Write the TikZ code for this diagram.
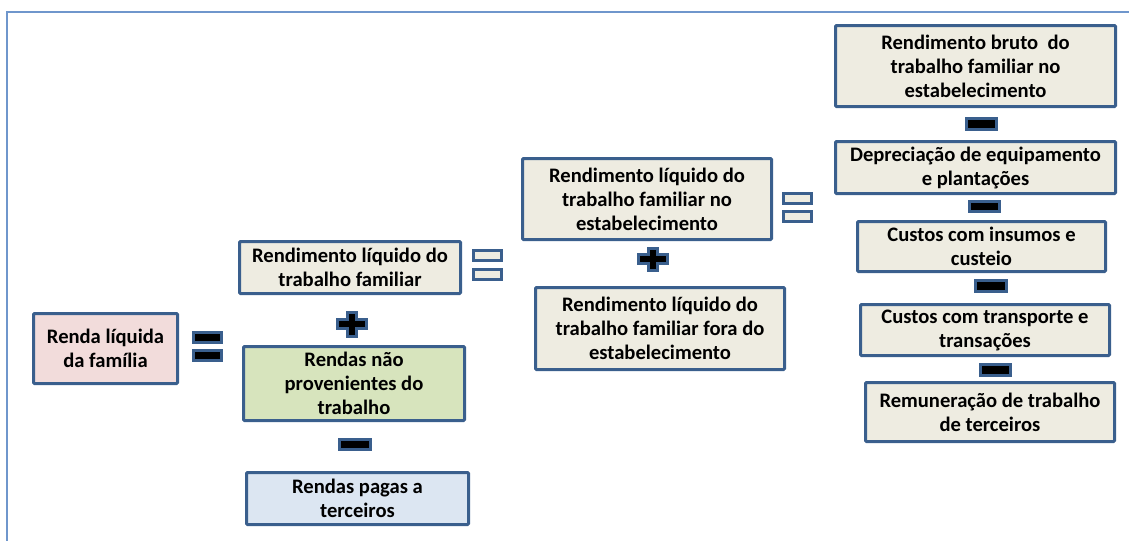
\documentclass[tikz,border=0pt]{standalone}
\usepackage{fontspec}
\setmainfont{Carlito}
\definecolor{boxblue}{HTML}{3A5F8D}
\definecolor{frameblue}{HTML}{6F96CC}
\definecolor{pinkfill}{HTML}{F2DCDB}
\definecolor{beigefill}{HTML}{EEECE1}
\definecolor{greenfill}{HTML}{D7E4BD}
\definecolor{bluefill}{HTML}{DCE6F2}
\tikzset{
    box/.style={draw=boxblue, line width=3pt, rounded corners=1pt, align=center,
        inner sep=0pt, font=\fontsize{20.6}{24}\selectfont\bfseries},
    bar/.style={draw=boxblue, line width=3pt, minimum width=28pt, minimum height=10pt,
        inner sep=0pt},
    sign/.style={draw=boxblue, line width=3pt, fill=black, line join=miter}
}
\begin{document}
\begin{tikzpicture}[x=1pt, y=-1pt]
    \useasboundingbox (0,0) rectangle (1129,541);
    \draw[frameblue, line width=2.2pt] (1129,12) -- (7,12) -- (7,541);

    % left side
    \node[box, fill=pinkfill, minimum width=144pt, minimum height=70pt] (rlf) at (105.5,348.5) {Renda líquida\\da família};
    \node[box, fill=beigefill, minimum width=221pt, minimum height=52pt] (rltf) at (350,267.5) {Rendimento líquido do\\trabalho familiar};
    \node[box, fill=greenfill, minimum width=221pt, minimum height=74pt] (rnpt) at (354,383.5) {Rendas não\\provenientes do\\trabalho};
    \node[box, fill=bluefill, minimum width=222pt, minimum height=52pt] (rpt) at (357.5,498.5) {Rendas pagas a\\terceiros};

    % middle
    \node[box, fill=beigefill, minimum width=249pt, minimum height=81pt] (rltfe) at (647,199) {Rendimento líquido do\\trabalho familiar no\\estabelecimento};
    \node[box, fill=beigefill, minimum width=249pt, minimum height=82pt] (rltff) at (660,328.5) {Rendimento líquido do\\trabalho familiar fora do\\estabelecimento};

    % right column
    \node[box, fill=beigefill, minimum width=280pt, minimum height=81pt] (rb) at (975.5,66) {Rendimento bruto\ \ do\\trabalho familiar no\\estabelecimento};
    \node[box, fill=beigefill, minimum width=280pt, minimum height=52pt] (dep) at (975.5,167.5) {Depreciação de equipamento\\e plantações};
    \node[box, fill=beigefill, minimum width=248pt, minimum height=50pt] (ci) at (981.5,246.5) {Custos com insumos e\\custeio};
    \node[box, fill=beigefill, minimum width=249pt, minimum height=51pt] (ct) at (985,330) {Custos com transporte e\\transações};
    \node[box, fill=beigefill, minimum width=249pt, minimum height=59pt] (rem) at (990,412) {Remuneração de trabalho\\de terceiros};

    % equals signs
    \node[bar, fill=black] (eq1a) at (207.5,337.5) {};
    \node[bar, fill=black] (eq1b) at (207.5,355) {};
    \node[bar, fill=beigefill] (eq2a) at (487.5,255) {};
    \node[bar, fill=beigefill] (eq2b) at (487.5,274) {};
    \node[bar, fill=beigefill] (eq3a) at (797.5,198) {};
    \node[bar, fill=beigefill] (eq3b) at (797.5,216.5) {};

    % minus signs
    \node[bar, fill=black, minimum width=31pt] (mi1) at (355,444.5) {};
    \node[bar, fill=black, minimum width=30pt, minimum height=11pt] (mi2) at (981.5,124) {};
    \node[bar, fill=black, minimum width=30pt] (mi3) at (984.5,206.5) {};
    \node[bar, fill=black, minimum width=31pt, minimum height=11pt] (mi4) at (991,286) {};
    \node[bar, fill=black, minimum width=30pt, minimum height=11pt] (mi5) at (995.5,370) {};

    % plus signs
    \draw[sign, shift={(352,324)}] (-14.5,-4.5) -- (-4.5,-4.5) -- (-4.5,-12) -- (4.5,-12) -- (4.5,-4.5) -- (14.5,-4.5)
        -- (14.5,4.5) -- (4.5,4.5) -- (4.5,12) -- (-4.5,12) -- (-4.5,4.5) -- (-14.5,4.5) -- cycle;
    \draw[sign, shift={(653,259)}] (-14.5,-4.5) -- (-4.5,-4.5) -- (-4.5,-11) -- (4.5,-11) -- (4.5,-4.5) -- (14.5,-4.5)
        -- (14.5,4.5) -- (4.5,4.5) -- (4.5,11) -- (-4.5,11) -- (-4.5,4.5) -- (-14.5,4.5) -- cycle;
\end{tikzpicture}
\end{document}
